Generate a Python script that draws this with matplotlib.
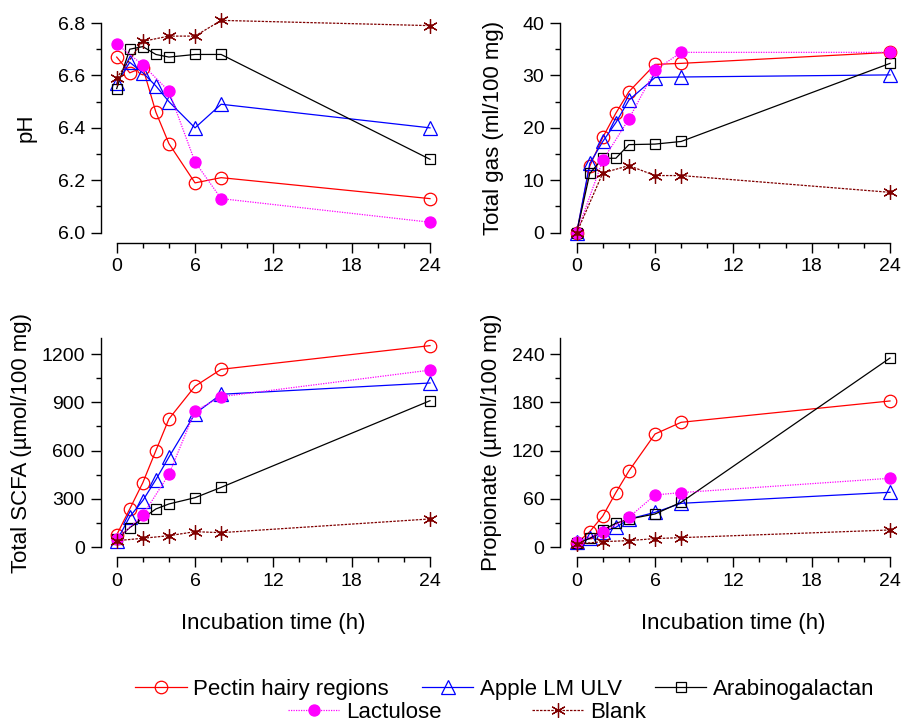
"""Fermentation time course: pH, gas, total SCFA and propionate, 2x2 panels."""

import numpy as np
import matplotlib
matplotlib.use("Agg")
import matplotlib.pyplot as plt
from matplotlib.ticker import MultipleLocator, FormatStrFormatter
from matplotlib.lines import Line2D

plt.rcParams["font.family"] = ["Liberation Sans", "DejaVu Sans"]

# time points (h)
time_full = [0, 1, 2, 3, 4, 6, 8, 24]
time_sub = [0, 2, 4, 6, 8, 24]   # lactulose and blank were sampled less often

series_names = ["Pectin hairy regions", "Apple LM ULV", "Arabinogalactan", "Lactulose", "Blank"]

# pH
ph_pectin = [6.67, 6.61, 6.63, 6.46, 6.34, 6.19, 6.21, 6.13]
ph_apple = [6.57, 6.65, 6.61, 6.56, 6.50, 6.40, 6.49, 6.40]
ph_arabino = [6.55, 6.70, 6.71, 6.68, 6.67, 6.68, 6.68, 6.28]
ph_lactulose = [6.72, 6.64, 6.54, 6.27, 6.13, 6.04]
ph_blank = [6.59, 6.73, 6.75, 6.75, 6.81, 6.79]

# total gas (ml/100 mg)
gas_pectin = [0, 12.7, 18.2, 22.8, 26.9, 32.1, 32.3, 34.4]
gas_apple = [0, 13.2, 17.4, 21.0, 25.3, 29.6, 29.7, 30.1]
gas_arabino = [0, 11.3, 14.2, 14.2, 16.8, 16.9, 17.4, 32.3]
gas_lactulose = [0, 13.8, 21.7, 31.0, 34.4, 34.4]
gas_blank = [0, 11.4, 12.8, 10.9, 10.9, 7.7]

# total SCFA (umol/100 mg)
scfa_pectin = [77, 238, 401, 600, 797, 1000, 1105, 1252]
scfa_apple = [40, 190, 290, 420, 560, 830, 950, 1020]
scfa_arabino = [50, 122, 180, 238, 269, 308, 372, 910]
scfa_lactulose = [50, 200, 453, 846, 935, 1100]
scfa_blank = [41, 56, 72, 97, 91, 176]

# propionate (umol/100 mg)
prop_pectin = [5, 19.4, 38.9, 67.9, 94.8, 140.7, 155.2, 181.7]
prop_apple = [6, 11, 19, 24.8, 35, 43.4, 54.6, 68.3]
prop_arabino = [5, 11, 21.5, 29.8, 35, 41.4, 55.9, 235]
prop_lactulose = [7, 18.6, 37.2, 65, 67.9, 85.7]
prop_blank = [4, 7, 8.3, 10.8, 12, 21.5]

# styles per series: color, marker, size, face, linestyle
styles = [
    dict(color="#FF0000", marker="o", ms=9, mfc="none", ls="-"),
    dict(color="#0000FF", marker="^", ms=10, mfc="none", ls="-"),
    dict(color="#000000", marker="s", ms=7.5, mfc="none", ls="-"),
    dict(color="#FF00FF", marker="o", ms=8, mfc="#FF00FF", ls=(0, (1, 1))),
    dict(color="#800000", marker=(6, 2, 0), ms=10.5, mfc="none", ls=(0, (2, 1))),
]

W, H = 901, 723
fig = plt.figure(figsize=(W / 100, H / 100), dpi=100)
PPU = 313.3 / 24  # pixels per hour on the x axis


def add_panel(left, x0, bottom, top, width=340):
    ax = fig.add_axes([left / W, 1 - bottom / H, width / W, (bottom - top) / H])
    xmin = -(x0 - left) / PPU
    ax.set_xlim(xmin, xmin + width / PPU)
    return ax


def style_panel(ax, ylim, ymajor, yminor, ylabel, label_x, fmt=None, xlabel=False):
    ax.set_ylim(*ylim)
    for s in ["top", "right"]:
        ax.spines[s].set_visible(False)
    ax.spines["bottom"].set_position(("outward", 7.2))
    ax.spines["bottom"].set_bounds(0, 24)
    ax.spines["left"].set_bounds(*ylim)
    for s in ["left", "bottom"]:
        ax.spines[s].set_linewidth(1.0)
    ax.xaxis.set_major_locator(MultipleLocator(6))
    ax.xaxis.set_minor_locator(MultipleLocator(2))
    ax.yaxis.set_major_locator(MultipleLocator(ymajor))
    ax.yaxis.set_minor_locator(MultipleLocator(yminor))
    if fmt:
        ax.yaxis.set_major_formatter(FormatStrFormatter(fmt))
    ax.tick_params(which="major", direction="out", length=7.2, width=1.0,
                   labelsize=14, pad=4)
    ax.tick_params(which="minor", direction="out", length=3.6, width=1.0)
    ax.set_ylabel(ylabel, fontsize=16)
    ax.yaxis.set_label_coords(label_x, 0.5)
    if xlabel:
        ax.set_xlabel("Incubation time (h)", fontsize=16, labelpad=17)
        ax.xaxis.label.set_x((12 - ax.get_xlim()[0]) / (ax.get_xlim()[1] - ax.get_xlim()[0]))
    ax.patch.set_visible(False)


def draw(ax, data):
    for (t, y), st in zip(data, styles):
        ax.plot(t, y, color=st["color"], lw=0.9, ls=st["ls"], marker=st["marker"],
                ms=st["ms"], mfc=st["mfc"], mec=st["color"], mew=0.9, clip_on=False)
    # small centre dot of the blank asterisk
    t, y = data[4]
    ax.plot(t, y, ls="none", marker="o", ms=2.5, color=styles[4]["color"], clip_on=False)


ax_ph = add_panel(101, 116.7, 232.7, 23.0)
ax_gas = add_panel(560, 576.7, 232.7, 23.0)
ax_scfa = add_panel(100.5, 116.7, 547.3, 337.9)
ax_prop = add_panel(560, 576.7, 547.3, 337.9)

draw(ax_ph, [(time_full, ph_pectin), (time_full, ph_apple), (time_full, ph_arabino),
             (time_sub, ph_lactulose), (time_sub, ph_blank)])
draw(ax_gas, [(time_full, gas_pectin), (time_full, gas_apple), (time_full, gas_arabino),
              (time_sub, gas_lactulose), (time_sub, gas_blank)])
draw(ax_scfa, [(time_full, scfa_pectin), (time_full, scfa_apple), (time_full, scfa_arabino),
               (time_sub, scfa_lactulose), (time_sub, scfa_blank)])
draw(ax_prop, [(time_full, prop_pectin), (time_full, prop_apple), (time_full, prop_arabino),
               (time_sub, prop_lactulose), (time_sub, prop_blank)])

style_panel(ax_ph, (6.0, 6.8), 0.2, 0.1, "pH", -0.19, fmt="%.1f")
style_panel(ax_gas, (0, 40), 10, 5, "Total gas (ml/100 mg)", -0.165)
style_panel(ax_scfa, (0, 1300), 300, 150, "Total SCFA (\u00b5mol/100 mg)", -0.2, xlabel=True)
style_panel(ax_prop, (0, 260), 60, 30, "Propionate (\u00b5mol/100 mg)", -0.17, xlabel=True)

handles = [Line2D([], [], color=st["color"], lw=0.9, ls=st["ls"], marker=st["marker"],
                  ms=st["ms"], mfc=st["mfc"], mec=st["color"], mew=0.9) for st in styles]

leg_kw = dict(frameon=False, fontsize=16, handlelength=2.3, handletextpad=0.3,
              borderaxespad=0, borderpad=0)
fig.legend(handles[:3], series_names[:3], loc="center", ncol=3,
           bbox_to_anchor=(505 / W, 1 - 689 / H), columnspacing=1.5, **leg_kw)
fig.legend(handles[3:], series_names[3:], loc="center", ncol=2,
           bbox_to_anchor=(467 / W, 1 - 712 / H), columnspacing=4.1, **leg_kw)

fig.savefig("out.png", dpi=100)
